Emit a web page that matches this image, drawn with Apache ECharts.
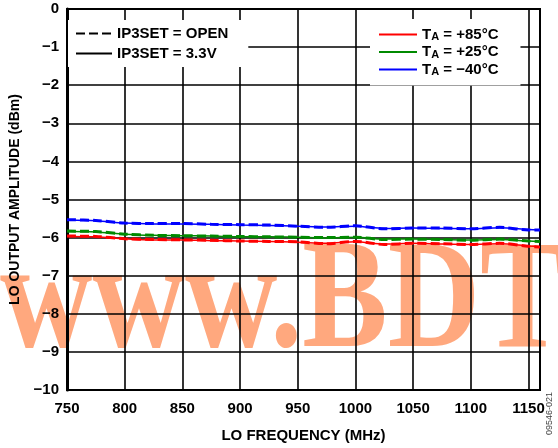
<!DOCTYPE html>
<html>
<head>
<meta charset="utf-8">
<script src="https://cdn.jsdelivr.net/npm/echarts@6/dist/echarts.min.js"></script>
<style>
html,body{margin:0;padding:0;background:#fff;}
#chart{width:558px;height:448px;}
</style>
</head>
<body>
<div id="chart"></div>
<script>
const freqMHz = [750, 775, 800, 825, 850, 875, 900, 925, 950, 975, 1000, 1025, 1050, 1075, 1100, 1125, 1150, 1160];
const red85Open  = [-5.96,-5.97,-6.03,-6.05,-6.06,-6.07,-6.09,-6.10,-6.11,-6.16,-6.10,-6.18,-6.15,-6.16,-6.18,-6.15,-6.23,-6.25];
const red85V33   = [-5.97,-5.98,-6.03,-6.06,-6.06,-6.08,-6.09,-6.10,-6.12,-6.15,-6.11,-6.17,-6.15,-6.17,-6.18,-6.16,-6.22,-6.24];
const green25Open= [-5.83,-5.84,-5.91,-5.94,-5.95,-5.96,-5.97,-5.98,-5.99,-6.00,-5.99,-6.05,-6.04,-6.05,-6.07,-6.04,-6.09,-6.10];
const green25V33 = [-5.84,-5.85,-5.91,-5.94,-5.95,-5.96,-5.98,-5.98,-5.99,-6.01,-5.99,-6.04,-6.04,-6.05,-6.06,-6.05,-6.09,-6.10];
const blue40Open = [-5.53,-5.55,-5.62,-5.63,-5.63,-5.65,-5.66,-5.67,-5.70,-5.73,-5.69,-5.77,-5.75,-5.75,-5.77,-5.73,-5.80,-5.80];
const blue40V33  = [-5.54,-5.56,-5.62,-5.64,-5.64,-5.65,-5.67,-5.68,-5.70,-5.72,-5.70,-5.76,-5.75,-5.76,-5.77,-5.74,-5.79,-5.80];
const modeNames = ['IP3SET = OPEN', 'IP3SET = 3.3V'];
const tempNames = ['+85°C', '+25°C', '\u221240°C'];
const tempColors = ['#ff0000', '#008a00', '#0000ff'];
const xTitle = 'LO FREQUENCY (MHz)';
const yTitle = 'LO OUTPUT AMPLITUDE (dBm)';

const pairs = arr => freqMHz.map((f, i) => [f, arr[i]]);
const FONT = 'Liberation Sans, Arial, sans-serif';

function lineSeries(name, color, data, dashed) {
  return {
    type: 'line', name: name, data: pairs(data), symbol: 'none', smooth: 0.3,
    lineStyle: dashed ? {color: color, width: 3, type: [9, 4]} : {color: color, width: 1.5, type: 'solid'},
    itemStyle: {color: color}, z: dashed ? 3 : 4
  };
}
const tempLabel = i => 'T' + i;
const series = [
  lineSeries(tempLabel(0), tempColors[0], red85V33, false),
  lineSeries(tempLabel(1), tempColors[1], green25V33, false),
  lineSeries(tempLabel(2), tempColors[2], blue40V33, false),
  lineSeries(tempLabel(0), tempColors[0], red85Open, true),
  lineSeries(tempLabel(1), tempColors[1], green25Open, true),
  lineSeries(tempLabel(2), tempColors[2], blue40Open, true),
  {type: 'line', name: modeNames[0], data: [], symbol: 'none',
    lineStyle: {color: '#000', width: 3, type: [9, 4]}, itemStyle: {color: '#000'}},
  {type: 'line', name: modeNames[1], data: [], symbol: 'none',
    lineStyle: {color: '#000', width: 3, type: 'solid'}, itemStyle: {color: '#000'}}
];

const minus = v => v < 0 ? '\u2212' + Math.abs(v) : String(v);

const chart = echarts.init(document.getElementById('chart'), null, {renderer: 'canvas'});
chart.setOption({
  animation: false,
  backgroundColor: '#fff',
  textStyle: {fontFamily: FONT},
  grid: {left: 62, right: 18, top: 9, bottom: 57, show: true, borderColor: '#000', borderWidth: 2, backgroundColor: 'rgba(0,0,0,0)'},
  xAxis: {
    type: 'value', min: 750, max: 1160, interval: 50,
    axisLine: {show: true, onZero: false, lineStyle: {color: '#000', width: 2}},
    axisTick: {show: false},
    splitLine: {show: true, lineStyle: {color: '#000', width: 1.6}},
    axisLabel: {color: '#000', fontSize: 15, fontWeight: 'bold', fontFamily: FONT, margin: 11, showMaxLabel: false,
      formatter: v => (v > 1150 ? '' : String(v))},
    name: xTitle, nameLocation: 'middle', nameGap: 38,
    nameTextStyle: {color: '#000', fontSize: 15, fontWeight: 'bold', fontFamily: FONT}
  },
  yAxis: {
    type: 'value', min: -10, max: 0, interval: 1,
    axisLine: {show: true, onZero: false, lineStyle: {color: '#000', width: 3}},
    axisTick: {show: false},
    splitLine: {show: true, lineStyle: {color: '#000', width: 1.6}},
    axisLabel: {color: '#000', fontSize: 15, fontWeight: 'bold', fontFamily: FONT, margin: 8, formatter: minus},
    name: yTitle, nameLocation: 'middle', nameGap: 45,
    nameTextStyle: {color: '#000', fontSize: 14, fontWeight: 'bold', fontFamily: FONT}
  },
  legend: [
    {
      data: modeNames, orient: 'vertical', left: 68, top: 20,
      backgroundColor: '#fff', padding: [6, 20, 6, 7], itemGap: 5,
      itemWidth: 36, itemHeight: 14,
      itemStyle: {opacity: 0},
      textStyle: {color: '#000', fontSize: 15, fontWeight: 'bold', fontFamily: FONT},
      selectedMode: false, z: 10
    },
    {
      data: [tempLabel(0), tempLabel(1), tempLabel(2)], orient: 'vertical', left: 370, top: 19,
      backgroundColor: '#fff', padding: [8, 22, 8, 8], itemGap: 2,
      itemWidth: 38, itemHeight: 15,
      itemStyle: {opacity: 0},
      formatter: n => '{b|T}{s|A}{b| = ' + tempNames[Number(n.slice(1))] + '}',
      textStyle: {color: '#000', fontSize: 15, fontWeight: 'bold', fontFamily: FONT,
        rich: {
          b: {fontSize: 15, fontWeight: 'bold', fontFamily: FONT, color: '#000', lineHeight: 16},
          s: {fontSize: 11, fontWeight: 'bold', fontFamily: FONT, color: '#000', lineHeight: 8, verticalAlign: 'bottom'}
        }},
      selectedMode: false, z: 10
    }
  ],
  graphic: [
    {type: 'text', x: 0, y: 230, scaleY: 1.2, z: -10, silent: true,
      style: {text: 'www.BDTIC.com', font: 'bold 128px "Liberation Serif", "DejaVu Serif", serif', fill: 'rgba(255,110,40,0.6)', verticalAlign: 'top'}},
    {type: 'text', x: 550, y: 392, rotation: Math.PI / 2, silent: true,
      style: {text: '09546-021', font: '9px Liberation Sans, Arial, sans-serif', fill: '#444', align: 'right', verticalAlign: 'middle'}}
  ],
  series: series
});
</script>
</body>
</html>
